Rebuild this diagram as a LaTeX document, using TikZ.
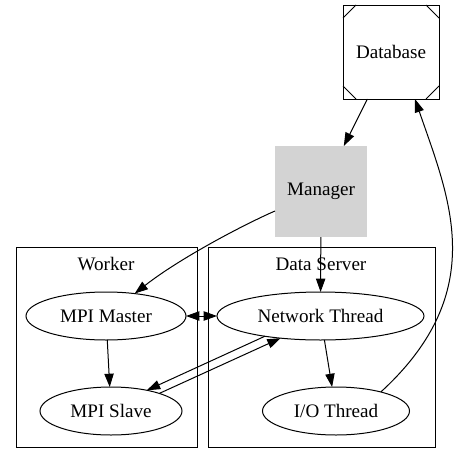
\documentclass[tikz,border=0pt]{standalone}
\usepackage{fontspec}
\setmainfont{Liberation Serif}
\usetikzlibrary{arrows.meta,shapes.geometric}
\begin{document}
\begin{tikzpicture}[x=1pt,y=-1pt,
  every node/.style={font=\fontsize{19.1}{22}\selectfont, inner sep=0pt, outer sep=0pt},
  ell/.style={draw, ellipse, line width=1pt, minimum height=48pt},
  cluster/.style={draw, rectangle, line width=1pt, minimum height=200pt},
  conn/.style={line width=1pt, -{Triangle[length=13.3pt,width=9.3pt]}},
  biconn/.style={line width=1pt, {Triangle[length=13.3pt,width=9.3pt]}-{Triangle[length=13.3pt,width=9.3pt]}},
]
\useasboundingbox (0,0) rectangle (460,463);
% clusters
\node[cluster, minimum width=181pt] (worker) at (106.5,347) {};
\node[cluster, minimum width=227pt] (dserver) at (321.5,347) {};
\node (wlabel) at (106,264) {Worker};
\node (dslabel) at (321,264) {Data Server};
% database (Msquare)
\node[draw, line width=1pt, minimum width=96pt, minimum height=94pt] (db) at (391,52) {Database};
\draw[line width=1pt] ([yshift=-13pt]db.north west) -- ([xshift=13pt]db.north west);
\draw[line width=1pt] ([yshift=-13pt]db.north east) -- ([xshift=-13pt]db.north east);
\draw[line width=1pt] ([yshift=13pt]db.south west) -- ([xshift=13pt]db.south west);
\draw[line width=1pt] ([yshift=13pt]db.south east) -- ([xshift=-13pt]db.south east);
% manager
\node[fill={rgb,255:red,211;green,211;blue,211}, minimum width=92pt, minimum height=91pt] (mgr) at (321,191.5) {Manager};
% ellipses
\node[ell, minimum width=160pt] (master) at (106,316) {MPI Master};
\node[ell, minimum width=207pt] (net) at (320.5,316) {Network Thread};
\node[ell, minimum width=142pt] (slave) at (111,411) {MPI Slave};
\node[ell, minimum width=147pt] (io) at (336,411) {I/O Thread};
% edges
\draw[conn] (db) -- (mgr);
\draw[conn] ([yshift=-19.5pt]mgr.west) .. controls (245,224) and (180,258) .. (master.38);
\draw[conn] (mgr) -- (net);
\draw[biconn] (master) -- (net);
\draw[conn] (master) -- (slave);
\draw[conn] (net) -- (io);
\draw[conn] (net.200.7) -- (slave.30);
\draw[conn] (slave.20) -- (net.209.6);
\draw[conn] (io.23) .. controls (491,291) and (449,198) .. ([xshift=24pt]db.south);
\end{tikzpicture}
\end{document}
